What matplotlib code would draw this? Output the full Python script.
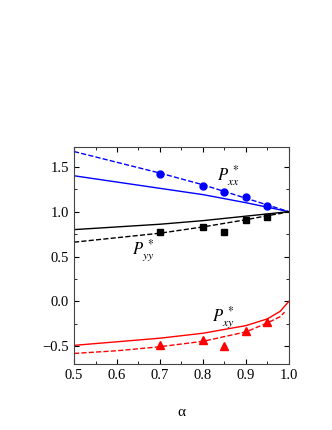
import numpy as np
import matplotlib
matplotlib.use("Agg")
import matplotlib.pyplot as plt
from matplotlib.ticker import MultipleLocator

plt.rcParams['font.family'] = ['Liberation Serif', 'DejaVu Serif']
plt.rcParams['mathtext.fontset'] = 'stix'

# theory curves (alpha grid)
alpha_line = [0.5, 0.6, 0.7, 0.8, 0.9, 0.95, 0.98, 1.0]
pxx_solid = [1.40, 1.33, 1.26, 1.19, 1.10, 1.05, 1.02, 1.0]
pxx_dash = [1.67, 1.55, 1.43, 1.30, 1.15, 1.075, 1.03, 1.0]
pyy_solid = [0.80, 0.83, 0.86, 0.90, 0.95, 0.975, 0.99, 1.0]
pyy_dash = [0.66, 0.71, 0.76, 0.83, 0.91, 0.955, 0.98, 1.0]
pxy_solid = [-0.49, -0.45, -0.41, -0.355, -0.27, -0.195, -0.11, 0.0]
alpha_dash_xy = [0.5, 0.6, 0.7, 0.8, 0.9, 0.95, 0.98, 0.99]
pxy_dash = [-0.58, -0.55, -0.505, -0.445, -0.34, -0.24, -0.17, -0.12]

# simulation points
alpha_pts = [0.7, 0.8, 0.85, 0.9, 0.95]
pxx_pts = [1.42, 1.29, 1.22, 1.16, 1.06]
pyy_pts = [0.77, 0.83, 0.77, 0.91, 0.94]
pxy_pts = [-0.49, -0.43, -0.50, -0.33, -0.23]

fig = plt.figure(figsize=(3.32, 4.30), dpi=100)
ax = fig.add_axes([0.223, 0.153, 0.647, 0.505])

ax.plot(alpha_line, pxx_solid, '-', color='blue', lw=1.0)
ax.plot(alpha_line, pxx_dash, '--', color='blue', lw=1.0)
ax.plot(alpha_line, pyy_solid, '-', color='black', lw=1.0)
ax.plot(alpha_line, pyy_dash, '--', color='black', lw=1.0)
ax.plot(alpha_line, pxy_solid, '-', color='red', lw=1.0)
ax.plot(alpha_dash_xy, pxy_dash, '--', color='red', lw=1.0)

ax.plot(alpha_pts, pxx_pts, 'o', color='blue', ms=5)
ax.plot(alpha_pts, pyy_pts, 's', color='black', ms=4.5)
ax.plot(alpha_pts, pxy_pts, '^', color='red', ms=5.5)

ax.text(0.832, 1.35, r'$P_{xx}^{\,*}$', fontsize=12)
ax.text(0.635, 0.53, r'$P_{yy}^{\,*}$', fontsize=12)
ax.text(0.82, -0.21, r'$P_{xy}^{\,*}$', fontsize=12)

ax.set_xlim(0.5, 1.0)
ax.set_ylim(-0.7, 1.72)
ax.xaxis.set_major_locator(MultipleLocator(0.1))
ax.xaxis.set_minor_locator(MultipleLocator(0.05))
ax.yaxis.set_major_locator(MultipleLocator(0.5))
ax.yaxis.set_minor_locator(MultipleLocator(0.25))
ax.tick_params(which='both', direction='in', top=True, right=True, labelsize=10.5)
ax.tick_params(which='major', length=3.5)
ax.tick_params(which='minor', length=2)
for s in ax.spines.values():
    s.set_color('#444444')
ax.set_xlabel('α', fontsize=11, labelpad=17)

fig.savefig('out.png', dpi=100)
